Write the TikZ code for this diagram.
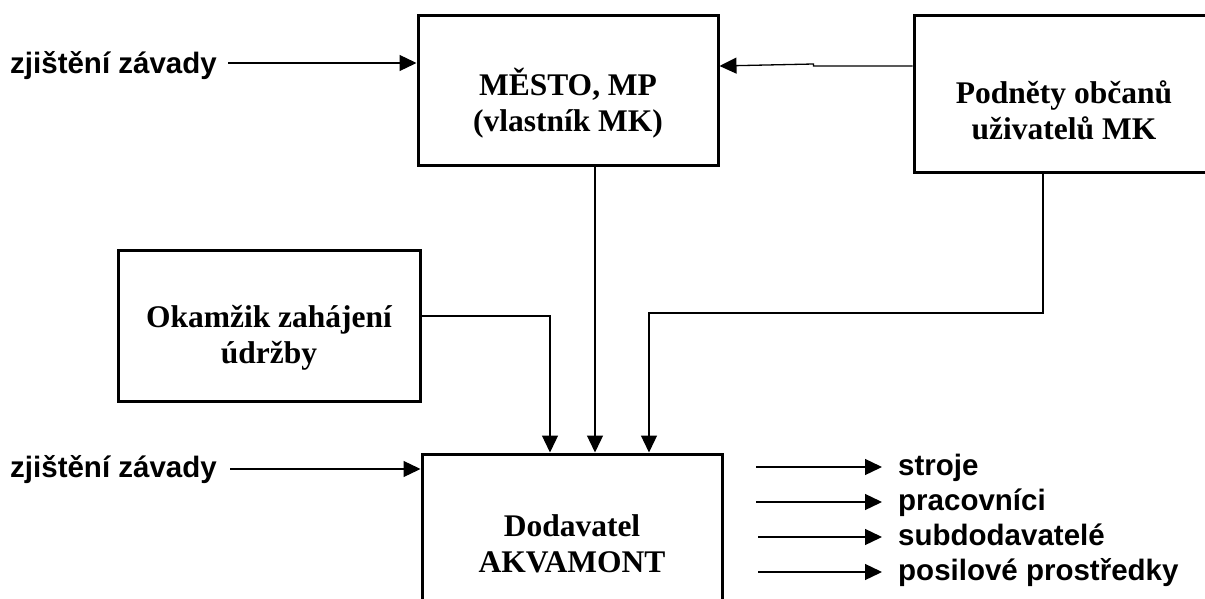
\documentclass[tikz,border=0pt]{standalone}
\usepackage{fontspec}
\setmainfont{Liberation Serif}
\newfontfamily\labelsans{Liberation Sans}
\usetikzlibrary{arrows.meta,positioning}

\tikzset{
  blok/.style={draw, line width=3pt, rectangle, inner sep=0pt},
  bloktext/.style={font=\fontsize{31.5}{36}\selectfont\bfseries, align=center, inner sep=0pt},
  popis/.style={font=\labelsans\fontsize{29.5}{34}\selectfont\bfseries, inner sep=0pt},
  sipka/.style={line width=1.3pt, -{Triangle[length=17pt,width=16pt]}}
}

\begin{document}
\begin{tikzpicture}[x=1pt,y=-1pt]
\useasboundingbox (0,0) rectangle (1205,599);
% -- Boxes --
\node[blok, minimum width=300pt, minimum height=150pt] (mesto) at (568,90.5) {};
\node[bloktext] (mestotxt) at ([yshift=-13pt]mesto.center) {MĚSTO, MP\\(vlastník MK)};
\node[blok, minimum width=300pt, minimum height=157pt] (podnety) at (1064,94) {};
\node[bloktext] (podnetytxt) at ([yshift=-16pt]podnety.center) {Podněty občanů\\uživatelů MK};
\node[blok, minimum width=302pt, minimum height=151pt] (okamzik) at (269,326) {};
\node[bloktext] (okamziktxt) at ([yshift=-12pt]okamzik.center) {Okamžik zahájení\\údržby};
\node[blok, minimum width=300pt, minimum height=150pt] (dodavatel) at (572,529) {};
\node[bloktext] (dodavateltxt) at ([yshift=-15pt]dodavatel.center) {Dodavatel\\AKVAMONT};
% -- Inputs on the left --
\node[popis, anchor=base east] (zjisteni1) at (217,74) {zjištění závady};
\node[popis, anchor=base east] (zjisteni2) at (217,477) {zjištění závady};
\draw[sipka] ([xshift=11pt,yshift=11pt]zjisteni1.base east) -- ([yshift=11pt]zjisteni1.base east -| mesto.west);
\draw[sipka] ([xshift=13pt,yshift=8pt]zjisteni2.base east) -- ([yshift=8pt]zjisteni2.base east -| dodavatel.west);
% Podnety -> Mesto (with small step)
\draw[sipka] ([yshift=28pt]podnety.west) -- ++(-99,0) -- ++(0,-2) -- ([yshift=28pt]podnety.west -| mesto.east);
% -- Connectors into Dodavatel --
\draw[sipka] ([yshift=10pt]okamzik.east) -| ([xshift=-22pt]dodavatel.north);
\draw[sipka] ([xshift=27pt]mesto.south) -- ([xshift=27pt]mesto.south |- dodavatel.north);
\draw[sipka] ([xshift=-21pt]podnety.south) -- ++(0,139) -| ([xshift=77pt]dodavatel.north);
% -- Outputs on the right --
\node[popis, anchor=base west] (stroje) at (898,475) {stroje};
\node[popis, anchor=base west] (pracovnici) at (898,510) {pracovníci};
\node[popis, anchor=base west] (subdodavatele) at (898,545) {subdodavatelé};
\node[popis, anchor=base west] (posilove) at (898,580) {posilové prostředky};
\draw[sipka] ([xshift=-142pt,yshift=8pt]stroje.base west) -- ([xshift=-16pt,yshift=8pt]stroje.base west);
\draw[sipka] ([xshift=-142pt,yshift=8pt]pracovnici.base west) -- ([xshift=-16pt,yshift=8pt]pracovnici.base west);
\draw[sipka] ([xshift=-140pt,yshift=8pt]subdodavatele.base west) -- ([xshift=-16pt,yshift=8pt]subdodavatele.base west);
\draw[sipka] ([xshift=-140pt,yshift=8pt]posilove.base west) -- ([xshift=-16pt,yshift=8pt]posilove.base west);
\end{tikzpicture}
\end{document}
